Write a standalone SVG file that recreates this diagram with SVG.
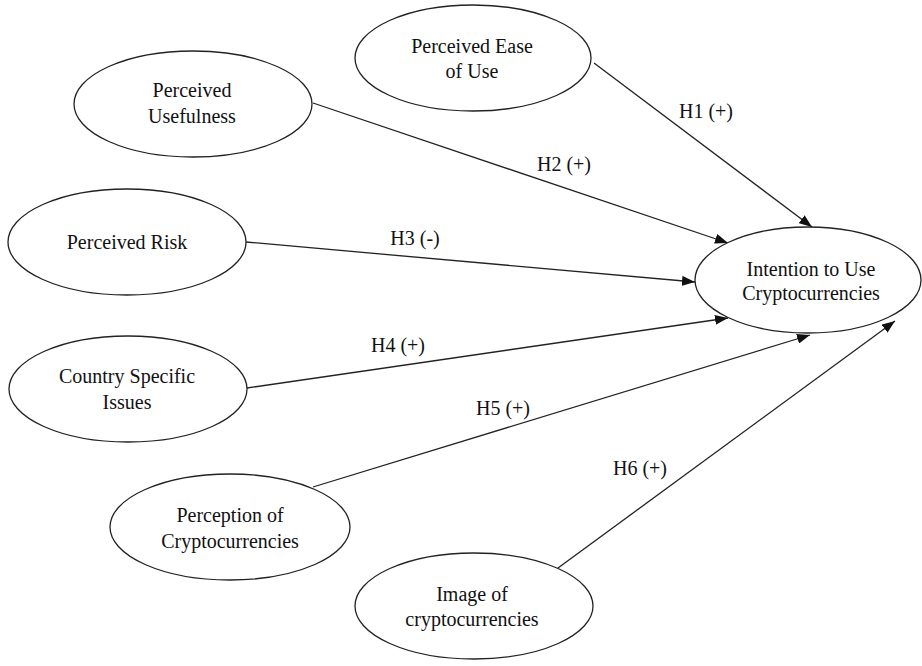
<svg xmlns="http://www.w3.org/2000/svg" width="922" height="666" viewBox="0 0 922 666">
  <style>
    .node ellipse { fill: #ffffff; stroke: #222222; stroke-width: 1.3; }
    .node text, .lbl { font-family: "Liberation Serif", "Times New Roman", serif; font-size: 20px; fill: #111111; text-anchor: middle; }
    .edge { stroke: #222222; stroke-width: 1.3; fill: none; marker-end: url(#arrow); }
  </style>
  <defs>
    <marker id="arrow" markerUnits="userSpaceOnUse" markerWidth="14" markerHeight="10" refX="13" refY="5" orient="auto">
      <path d="M0,0 L13,5 L0,10 Z" fill="#111111"/>
    </marker>
  </defs>
  <rect width="922" height="666" fill="#ffffff"/>

  <!-- connectors -->
  <g id="connectors">
    <line class="edge" x1="594" y1="63" x2="812" y2="227"/>
    <line class="edge" x1="313" y1="103" x2="728" y2="243"/>
    <line class="edge" x1="246" y1="242" x2="695" y2="282"/>
    <line class="edge" x1="247" y1="388" x2="728" y2="318"/>
    <line class="edge" x1="313" y1="487" x2="810" y2="335"/>
    <line class="edge" x1="558" y1="568" x2="895" y2="321"/>
    <text class="lbl" x="706" y="118">H1 (+)</text>
    <text class="lbl" x="564" y="171">H2 (+)</text>
    <text class="lbl" x="415" y="245">H3 (-)</text>
    <text class="lbl" x="398" y="352">H4 (+)</text>
    <text class="lbl" x="503" y="415">H5 (+)</text>
    <text class="lbl" x="640" y="475">H6 (+)</text>
  </g>

  <g id="ease" class="node">
    <ellipse cx="473" cy="58" rx="118" ry="53"/>
    <text x="472" y="53">Perceived Ease</text>
    <text x="472" y="78">of Use</text>
  </g>
  <g id="usefulness" class="node">
    <ellipse cx="193" cy="104" rx="119" ry="53"/>
    <text x="192" y="97">Perceived</text>
    <text x="192" y="123">Usefulness</text>
  </g>
  <g id="risk" class="node">
    <ellipse cx="127" cy="242" rx="119" ry="53"/>
    <text x="127" y="249">Perceived Risk</text>
  </g>
  <g id="country" class="node">
    <ellipse cx="128" cy="389" rx="119" ry="53"/>
    <text x="127" y="383">Country Specific</text>
    <text x="127" y="409">Issues</text>
  </g>
  <g id="perception" class="node">
    <ellipse cx="230" cy="527" rx="120" ry="53"/>
    <text x="230" y="522">Perception of</text>
    <text x="230" y="548">Cryptocurrencies</text>
  </g>
  <g id="image" class="node">
    <ellipse cx="474" cy="606" rx="119" ry="53"/>
    <text x="472" y="601">Image of</text>
    <text x="472" y="626">cryptocurrencies</text>
  </g>
  <g id="intention" class="node">
    <ellipse cx="808" cy="280" rx="113" ry="53"/>
    <text x="811" y="276">Intention to Use</text>
    <text x="811" y="300">Cryptocurrencies</text>
  </g>
</svg>
